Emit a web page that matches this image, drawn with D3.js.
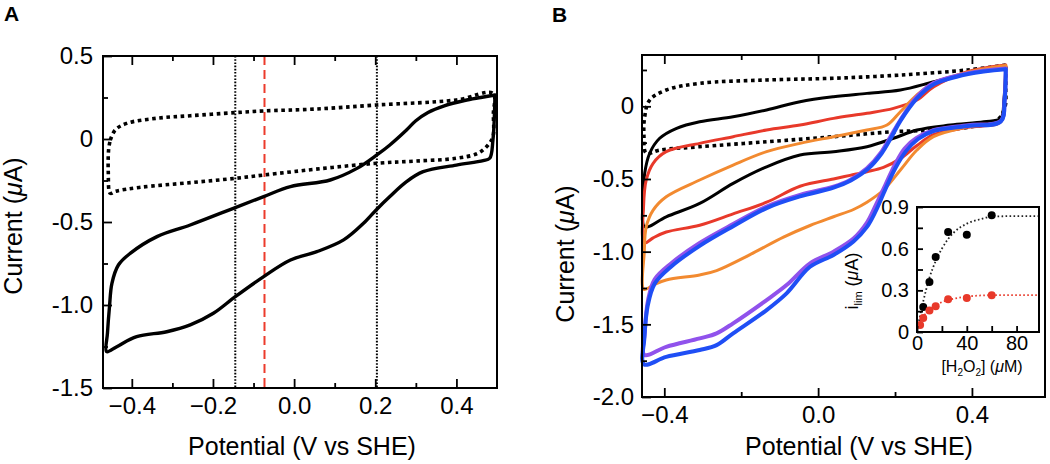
<!DOCTYPE html>
<html lang="en">
<head>
<meta charset="UTF-8">
<title>Cyclic voltammograms A / B</title>
<style>
  body { margin: 0; background: #fff; }
  svg { display: block; font-family: "Liberation Sans", Arial, Helvetica, sans-serif; }
  .frame { fill: none; stroke: #000; stroke-width: 2; }
  .tick line { stroke: #000; stroke-width: 1.8; }
  .tick text { fill: #000; }
  .cv { fill: none; stroke-linejoin: round; }
</style>
</head>
<body>
<svg id="chart" width="1050" height="464"></svg>
<script src="https://cdn.jsdelivr.net/npm/d3@7/dist/d3.min.js"></script>
<script>
// ---------- panel A : [potential V, current uA] ----------
const aBlank = [[-0.453,-0.006],[-0.441,0.054],[-0.413,0.094],[-0.338,0.125],[-0.256,0.14],[-0.145,0.159],
  [-0.075,0.169],[0.05,0.18],[0.204,0.205],[0.4,0.235],[0.49,0.275],[0.491,0.15],[0.49,0.014],[0.478,-0.036],
  [0.453,-0.086],[0.4,-0.116],[0.3,-0.133],[0.204,-0.146],[0.072,-0.177],[-0.075,-0.217],[-0.145,-0.237],
  [-0.256,-0.263],[-0.379,-0.291],[-0.44,-0.315],[-0.453,-0.327],[-0.458,-0.2],[-0.457,-0.06],[-0.453,-0.006]];
const aSolid = [[0.495,0.265],[0.46,0.25],[0.42,0.232],[0.37,0.2],[0.33,0.16],[0.3,0.11],[0.277,0.054],[0.236,-0.036],
  [0.204,-0.096],[0.155,-0.177],[0.089,-0.247],[-0.009,-0.287],[-0.075,-0.347],[-0.145,-0.413],[-0.256,-0.518],
  [-0.338,-0.588],[-0.404,-0.689],[-0.433,-0.759],[-0.449,-0.869],[-0.455,-1.01],[-0.46,-1.17],[-0.462,-1.281],
  [-0.437,-1.251],[-0.388,-1.191],[-0.314,-1.161],[-0.256,-1.12],[-0.199,-1.05],[-0.145,-0.95],[-0.075,-0.829],
  [-0.009,-0.729],[0.056,-0.679],[0.122,-0.608],[0.171,-0.508],[0.204,-0.423],[0.236,-0.347],[0.277,-0.257],
  [0.318,-0.197],[0.4,-0.157],[0.466,-0.13],[0.482,-0.116],[0.49,-0.006],[0.495,0.265]];
const aDottedMarks = [-0.145, 0.204];
const aDashedMarks = [-0.073];

// ---------- panel B ----------
const bBlank = [[0.488,0.284],[0.388,0.25],[0.214,0.215],[0.04,0.193],[-0.134,0.181],[-0.308,0.158],[-0.395,0.112],
  [-0.438,0.043],[-0.451,-0.072],[-0.453,-0.2],[-0.447,-0.323],[-0.412,-0.301],[-0.308,-0.278],[-0.134,-0.244],
  [0.04,-0.209],[0.196,-0.175],[0.301,-0.163],[0.388,-0.145],[0.466,-0.094],[0.486,-0.003],[0.488,0.12],[0.488,0.284]];
const bBlack = [[0.488,0.272],[0.388,0.227],[0.301,0.169],[0.214,0.112],[0.127,0.089],[0.04,0.066],[-0.047,0.032],
  [-0.134,-0.025],[-0.221,-0.072],[-0.308,-0.106],[-0.368,-0.151],[-0.412,-0.22],[-0.438,-0.323],[-0.451,-0.461],
  [-0.455,-0.645],[-0.451,-0.829],[-0.395,-0.76],[-0.308,-0.668],[-0.221,-0.53],[-0.134,-0.416],[-0.047,-0.335],
  [0.04,-0.312],[0.127,-0.278],[0.196,-0.22],[0.257,-0.163],[0.344,-0.129],[0.431,-0.106],[0.475,-0.083],
  [0.483,0.043],[0.488,0.272]];
const bRed = [[0.488,0.284],[0.388,0.238],[0.301,0.135],[0.257,0.043],[0.196,-0.014],[0.127,-0.048],[0.04,-0.083],
  [-0.047,-0.129],[-0.134,-0.163],[-0.221,-0.209],[-0.308,-0.255],[-0.395,-0.312],[-0.429,-0.392],[-0.447,-0.507],
  [-0.454,-0.691],[-0.452,-0.94],[-0.429,-0.905],[-0.395,-0.865],[-0.308,-0.818],[-0.221,-0.74],[-0.134,-0.66],
  [-0.047,-0.55],[0.04,-0.5],[0.083,-0.475],[0.127,-0.45],[0.17,-0.42],[0.214,-0.36],[0.257,-0.27],[0.3,-0.195],
  [0.39,-0.145],[0.475,-0.105],[0.485,0.04],[0.488,0.284]];
const bOrange = [[0.488,0.28],[0.39,0.235],[0.3,0.16],[0.257,0.078],[0.214,-0.037],[0.179,-0.129],[0.127,-0.163],
  [0.04,-0.209],[-0.047,-0.255],[-0.134,-0.312],[-0.221,-0.404],[-0.308,-0.507],[-0.395,-0.622],[-0.429,-0.714],
  [-0.447,-0.829],[-0.452,-1.0],[-0.453,-1.26],[-0.429,-1.23],[-0.395,-1.195],[-0.308,-1.16],[-0.264,-1.13],
  [-0.177,-1.02],[-0.09,-0.9],[-0.021,-0.82],[0.04,-0.76],[0.092,-0.71],[0.127,-0.66],[0.17,-0.576],[0.214,-0.438],
  [0.257,-0.301],[0.3,-0.209],[0.39,-0.14],[0.475,-0.105],[0.485,0.04],[0.488,0.28]];
const bPurple = [[0.488,0.26],[0.39,0.228],[0.3,0.16],[0.257,0.066],[0.214,-0.094],[0.188,-0.209],[0.162,-0.323],
  [0.127,-0.427],[0.083,-0.507],[0.04,-0.553],[-0.047,-0.61],[-0.134,-0.69],[-0.221,-0.81],[-0.308,-0.94],
  [-0.381,-1.078],[-0.425,-1.19],[-0.442,-1.33],[-0.451,-1.56],[-0.452,-1.71],[-0.395,-1.655],[-0.308,-1.597],
  [-0.264,-1.562],[-0.221,-1.493],[-0.134,-1.333],[-0.082,-1.23],[-0.021,-1.08],[0.04,-1.0],[0.092,-0.91],
  [0.127,-0.8],[0.15,-0.68],[0.175,-0.54],[0.2,-0.4],[0.225,-0.29],[0.255,-0.22],[0.3,-0.165],[0.39,-0.13],
  [0.475,-0.1],[0.485,0.05],[0.488,0.26]];
const bBlue = [[0.488,0.255],[0.39,0.222],[0.3,0.15],[0.257,0.055],[0.214,-0.1],[0.19,-0.215],[0.165,-0.325],
  [0.13,-0.43],[0.085,-0.51],[0.04,-0.56],[-0.047,-0.62],[-0.134,-0.7],[-0.221,-0.825],[-0.308,-0.96],
  [-0.381,-1.1],[-0.425,-1.22],[-0.443,-1.37],[-0.452,-1.6],[-0.453,-1.775],[-0.395,-1.724],[-0.308,-1.677],
  [-0.264,-1.643],[-0.221,-1.562],[-0.134,-1.402],[-0.082,-1.287],[-0.021,-1.104],[0.04,-1.023],[0.092,-0.93],
  [0.127,-0.83],[0.15,-0.72],[0.175,-0.57],[0.2,-0.43],[0.228,-0.31],[0.26,-0.225],[0.3,-0.17],[0.39,-0.135],
  [0.475,-0.105],[0.485,0.04],[0.488,0.255]];

// ---------- inset : limiting current vs [H2O2] ----------
const h2o2Black = [5, 10, 15, 25, 40, 60];
const ilimBlack = [0.18, 0.36, 0.54, 0.72, 0.70, 0.84];
const h2o2Red = [2.5, 5, 10, 15, 25, 40, 60];
const ilimRed = [0.05, 0.10, 0.155, 0.185, 0.235, 0.245, 0.265];
const fitBlack = [[1,0.05],[2.5,0.12],[5,0.22],[7.5,0.31],[10,0.39],[15,0.51],[20,0.6],[25,0.67],[30,0.72],
  [40,0.78],[50,0.81],[60,0.83],[80,0.835],[98,0.835]];
const fitRed = [[0,0.02],[2.5,0.07],[5,0.11],[10,0.16],[15,0.19],[20,0.215],[25,0.23],[30,0.24],[40,0.255],
  [60,0.265],[98,0.265]];

// tick values / labels
const aXMajor = [-0.4, -0.2, 0, 0.2, 0.4], aXLabels = ["\u22120.4", "\u22120.2", "0.0", "0.2", "0.4"];
const aXMinor = [-0.3, -0.1, 0.1, 0.3];
const aYMajor = [0.5, 0, -0.5, -1, -1.5], aYLabels = ["0.5", "0", "-0.5", "-1.0", "-1.5"];
const aYMinor = [0.25, -0.25, -0.75, -1.25];
const bXMajor = [-0.4, 0, 0.4], bXLabels = ["\u22120.4", "0.0", "0.4"];
const bXMinor = [-0.2, 0.2];
const bYMajor = [0, -0.5, -1, -1.5, -2], bYLabels = ["0", "-0.5", "-1.0", "-1.5", "-2.0"];
const bYMinor = [0.25, -0.25, -0.75, -1.25, -1.75];
const inXMajor = [0, 40, 80], inXMinor = [20, 60];
const inYMajor = [0, 0.3, 0.6, 0.9], inYLabels = ["0", "0.3", "0.6", "0.9"];
const inYMinor = [0.15, 0.45, 0.75];

const svg = d3.select('#chart');

function axes(g, x, y, o) {
  const bot = y.range()[0], top = y.range()[1], left = x.range()[0];
  const fs = o.fs;
  function put(gen, tr) {
    const a = g.append('g').attr('transform', tr).call(gen);
    a.select('.domain').remove();
    a.selectAll('text').style('font-size', fs + 'px');
    return a;
  }
  put(d3.axisBottom(x).tickValues(o.xMajor).tickSize(-o.major).tickPadding(o.xPad)
      .tickFormat((d, i) => o.xLabels ? o.xLabels[i] : d), `translate(0,${bot})`);
  put(d3.axisBottom(x).tickValues(o.xMinor).tickSize(-o.minor).tickFormat(''), `translate(0,${bot})`);
  if (o.topTicks) {
    put(d3.axisTop(x).tickValues(o.xMajor).tickSize(-o.major).tickFormat(''), `translate(0,${top})`);
    put(d3.axisTop(x).tickValues(o.xMinor).tickSize(-o.minor).tickFormat(''), `translate(0,${top})`);
  }
  put(d3.axisLeft(y).tickValues(o.yMajor).tickSize(-o.major).tickPadding(o.yPad)
      .tickFormat((d, i) => o.yLabels[i]), `translate(${left},0)`);
  put(d3.axisLeft(y).tickValues(o.yMinor).tickSize(-o.minor).tickFormat(''), `translate(${left},0)`);
  g.append('rect').attr('class', 'frame')
    .attr('x', left).attr('y', top)
    .attr('width', x.range()[1] - left).attr('height', bot - top);
}

function cv(g, line, data, color, width, dash) {
  const p = g.append('path').attr('class', 'cv').attr('d', line(data))
    .attr('stroke', color).attr('stroke-width', width);
  if (dash) p.attr('stroke-dasharray', dash).attr('stroke-linecap', 'butt');
  else p.attr('stroke-linecap', 'round');
  return p;
}

// ================= Panel A =================
const xA = d3.scaleLinear().domain([-0.471, 0.5]).range([103, 497]);
const yA = d3.scaleLinear().domain([-1.5, 0.5]).range([388, 56]);
const gA = svg.append('g');
const lineA = d3.line().x(d => xA(d[0])).y(d => yA(d[1])).curve(d3.curveCatmullRom.alpha(0.5));

gA.selectAll('line.mk').data(aDottedMarks).join('line').attr('class', 'mk')
  .attr('x1', d => xA(d)).attr('x2', d => xA(d)).attr('y1', yA(0.5)).attr('y2', yA(-1.5))
  .attr('stroke', '#000').attr('stroke-width', 2).attr('stroke-dasharray', '1.6 1.6');
gA.selectAll('line.rd').data(aDashedMarks).join('line').attr('class', 'rd')
  .attr('x1', d => xA(d)).attr('x2', d => xA(d)).attr('y1', yA(0.5)).attr('y2', yA(-1.5))
  .attr('stroke', '#ec3b2c').attr('stroke-width', 2).attr('stroke-dasharray', '9 5');

cv(gA, lineA, aBlank, '#000', 3.6, '3.6 3.6');
cv(gA, lineA, aSolid, '#000', 3.4);

axes(gA, xA, yA, { fs: 24, major: 9, minor: 5, xPad: 9, yPad: 10, topTicks: true,
  xMajor: aXMajor, xLabels: aXLabels, xMinor: aXMinor, yMajor: aYMajor, yLabels: aYLabels, yMinor: aYMinor });

gA.append('text').attr('x', 302).attr('y', 455).attr('text-anchor', 'middle')
  .style('font-size', '25px').text('Potential (V vs SHE)');
const tA = gA.append('text').attr('transform', 'translate(22,226) rotate(-90)')
  .attr('text-anchor', 'middle').style('font-size', '25px');
tA.append('tspan').text('Current (');
tA.append('tspan').style('font-style', 'italic').text('\u03bc');
tA.append('tspan').text('A)');
svg.append('text').attr('x', 4).attr('y', 21).style('font-size', '21px').style('font-weight', 'bold').text('A');

// ================= Panel B =================
const xB = d3.scaleLinear().domain([-0.458, 0.59]).range([642, 1045]);
const yB = d3.scaleLinear().domain([-2.0, 0.353]).range([397, 55]);
const gB = svg.append('g');
const lineB = d3.line().x(d => xB(d[0])).y(d => yB(d[1])).curve(d3.curveCatmullRom.alpha(0.5));

cv(gB, lineB, bBlank, '#000', 3.6, '3.6 3.6');
cv(gB, lineB, bBlack, '#000', 3);
cv(gB, lineB, bRed, '#e8392a', 3);
cv(gB, lineB, bOrange, '#f28a30', 3);
cv(gB, lineB, bPurple, '#9052ec', 4);
cv(gB, lineB, bBlue, '#1f4ef5', 4);

axes(gB, xB, yB, { fs: 24, major: 9, minor: 5, xPad: 9, yPad: 8, topTicks: true,
  xMajor: bXMajor, xLabels: bXLabels, xMinor: bXMinor, yMajor: bYMajor, yLabels: bYLabels, yMinor: bYMinor });

gB.append('text').attr('x', 859).attr('y', 455).attr('text-anchor', 'middle')
  .style('font-size', '25px').text('Potential (V vs SHE)');
const tB = gB.append('text').attr('transform', 'translate(574,254) rotate(-90)')
  .attr('text-anchor', 'middle').style('font-size', '25px');
tB.append('tspan').text('Current (');
tB.append('tspan').style('font-style', 'italic').text('\u03bc');
tB.append('tspan').text('A)');
svg.append('text').attr('x', 552).attr('y', 22).style('font-size', '21px').style('font-weight', 'bold').text('B');

// ================= Inset =================
const xI = d3.scaleLinear().domain([0, 98]).range([917, 1039]);
const yI = d3.scaleLinear().domain([0, 0.9]).range([332, 207]);
const gI = svg.append('g');
gI.append('rect').attr('x', 917).attr('y', 207).attr('width', 122).attr('height', 125).attr('fill', '#fff');
const lineI = d3.line().x(d => xI(d[0])).y(d => yI(d[1])).curve(d3.curveMonotoneX);
gI.append('path').attr('d', lineI(fitBlack)).attr('fill', 'none').attr('stroke', '#222')
  .attr('stroke-width', 1.8).attr('stroke-dasharray', '1.6 2.4');
gI.append('path').attr('d', lineI(fitRed)).attr('fill', 'none').attr('stroke', '#e8392a')
  .attr('stroke-width', 1.8).attr('stroke-dasharray', '1.6 2.4');
gI.selectAll('circle.bk').data(h2o2Black).join('circle').attr('class', 'bk')
  .attr('cx', d => xI(d)).attr('cy', (d, i) => yI(ilimBlack[i])).attr('r', 4).attr('fill', '#000');
gI.selectAll('circle.rd').data(h2o2Red).join('circle').attr('class', 'rd')
  .attr('cx', d => xI(d)).attr('cy', (d, i) => yI(ilimRed[i])).attr('r', 4).attr('fill', '#e8392a');

axes(gI, xI, yI, { fs: 20, major: 6, minor: 6, xPad: 4, yPad: 8, topTicks: false,
  xMajor: inXMajor, xLabels: null, xMinor: inXMinor, yMajor: inYMajor, yLabels: inYLabels, yMinor: inYMinor });

const tX = gI.append('text').attr('x', 982).attr('y', 372).attr('text-anchor', 'middle').style('font-size', '16px');
tX.append('tspan').text('[H');
tX.append('tspan').attr('dy', 4).style('font-size', '10px').text('2');
tX.append('tspan').attr('dy', -4).text('O');
tX.append('tspan').attr('dy', 4).style('font-size', '10px').text('2');
tX.append('tspan').attr('dy', -4).text('] (');
tX.append('tspan').style('font-style', 'italic').text('\u03bc');
tX.append('tspan').text('M)');
const tY = gI.append('text').attr('transform', 'translate(858,281) rotate(-90)')
  .attr('text-anchor', 'middle').style('font-size', '18px');
tY.append('tspan').text('i');
tY.append('tspan').attr('dy', 4).style('font-size', '11px').text('lim');
tY.append('tspan').attr('dy', -4).text(' (');
tY.append('tspan').style('font-style', 'italic').text('\u03bc');
tY.append('tspan').text('A)');
</script>
</body>
</html>
